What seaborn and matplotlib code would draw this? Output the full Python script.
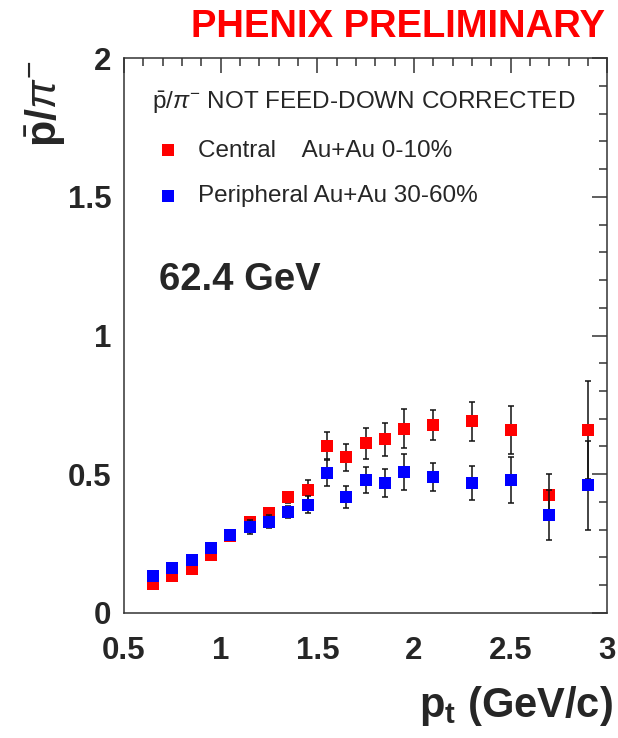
import numpy as np
import pandas as pd
import matplotlib
matplotlib.use("Agg")
import matplotlib.pyplot as plt
from matplotlib.ticker import MultipleLocator
import seaborn as sns

# ---- data ----
pt = [0.65, 0.75, 0.85, 0.95, 1.05, 1.15, 1.25, 1.35, 1.45, 1.55,
      1.65, 1.75, 1.85, 1.95, 2.1, 2.3, 2.5, 2.7, 2.9]
central = [0.103, 0.133, 0.156, 0.209, 0.275, 0.327, 0.358, 0.417, 0.442, 0.603,
           0.560, 0.611, 0.625, 0.664, 0.677, 0.690, 0.660, 0.425, 0.659]
central_err = [0.005, 0.005, 0.006, 0.007, 0.008, 0.010, 0.015, 0.020, 0.035, 0.050,
               0.050, 0.055, 0.060, 0.070, 0.053, 0.069, 0.087, 0.075, 0.176]
peripheral = [0.134, 0.161, 0.191, 0.234, 0.281, 0.310, 0.329, 0.364, 0.390, 0.503,
              0.417, 0.478, 0.468, 0.508, 0.490, 0.468, 0.478, 0.352, 0.460]
peripheral_err = [0.005, 0.006, 0.007, 0.008, 0.010, 0.025, 0.022, 0.022, 0.030, 0.047,
                  0.040, 0.047, 0.050, 0.064, 0.050, 0.062, 0.084, 0.089, 0.160]

series_labels = ["Central    Au+Au 0-10%", "Peripheral Au+Au 30-60%"]
series_colors = ["#ff0000", "#0000ff"]
xtick_vals = [0.5, 1, 1.5, 2, 2.5, 3]
xtick_labels = ["0.5", "1", "1.5", "2", "2.5", "3"]
ytick_vals = [0, 0.5, 1, 1.5, 2]
ytick_labels = ["0", "0.5", "1", "1.5", "2"]

df = pd.DataFrame({
    "pt": pt * 2,
    "ratio": central + peripheral,
    "err": central_err + peripheral_err,
    "series": [series_labels[0]] * len(pt) + [series_labels[1]] * len(pt),
})

sns.set_theme(style="white")
plt.rcParams["font.family"] = ["Liberation Sans", "DejaVu Sans"]
plt.rcParams["mathtext.fontset"] = "custom"
plt.rcParams["mathtext.rm"] = "Liberation Sans"
plt.rcParams["mathtext.it"] = "Liberation Sans:italic"
plt.rcParams["mathtext.bf"] = "Liberation Sans:bold"

W, H = 618, 738
fig = plt.figure(figsize=(W / 100, H / 100), dpi=100)
L, R, T, B = 124, 607.3, 58.3, 612.7
ax = fig.add_axes([L / W, 1 - B / H, (R - L) / W, (B - T) / H])

for i, (lab, col) in enumerate(zip(series_labels, series_colors)):
    sub = df[df["series"] == lab]
    ax.errorbar(sub["pt"], sub["ratio"], yerr=sub["err"], fmt="none",
                ecolor="#111111", elinewidth=1.1, capsize=2.3, capthick=1.1,
                zorder=2 + 2 * i)
    sns.scatterplot(data=sub, x="pt", y="ratio", color=col, marker="s", s=82,
                    linewidth=0, ax=ax, zorder=3 + 2 * i, label=lab, legend=False)

h, l = ax.get_legend_handles_labels()
leg = ax.legend(h, l, title=r"$\bar{\mathrm{p}}/\pi^{-}$ NOT FEED-DOWN CORRECTED",
                loc="upper left", bbox_to_anchor=(0.058, 0.944), frameon=False,
                alignment="left", fontsize=17.5, title_fontsize=17.5,
                handlelength=1.3, handletextpad=0.6, labelspacing=0.97,
                borderpad=0, borderaxespad=0)

ax.set_xlim(0.5, 3)
ax.set_ylim(0, 2)
ax.set_xticks(xtick_vals)
ax.set_xticklabels(xtick_labels, fontweight="bold", fontsize=22.5)
ax.set_yticks(ytick_vals)
ax.set_yticklabels(ytick_labels, fontweight="bold", fontsize=22.5)
ax.xaxis.set_minor_locator(MultipleLocator(0.1))
ax.yaxis.set_minor_locator(MultipleLocator(0.1))
ax.tick_params(which="both", direction="in", top=True, right=True,
               color="#333333", width=1.1)
ax.tick_params(which="major", length=11)
ax.tick_params(which="minor", length=6)
ax.tick_params(axis="x", which="major", pad=17)
ax.tick_params(axis="y", which="major", pad=9)
for s in ax.spines.values():
    s.set_color("#333333")
    s.set_linewidth(1.1)

ax.set_xlabel(r"$\mathbf{p_t}$ (GeV/c)", fontsize=30, fontweight="bold", loc="right")
ax.xaxis.label.set_verticalalignment("baseline")
ax.xaxis.set_label_coords((613 - L) / (R - L), -(716.7 - B) / (B - T))

ax.set_ylabel(r"$\bar{\mathbf{p}}\mathbf{/}\pi^{-}$", fontsize=31, loc="top")
ax.yaxis.set_label_coords(-(L - 68) / (R - L), 0.997)

ax.text((159 - L) / (R - L), (B - 290) / (B - T), "62.4 GeV", transform=ax.transAxes,
        fontsize=27.5, fontweight="bold", va="baseline", ha="left")

fig.text(605 / W, 1 - 37.3 / H, "PHENIX PRELIMINARY", ha="right", va="baseline",
         color="#ff0000", fontsize=27.5, fontweight="bold")

fig.savefig("out.png", dpi=100)
